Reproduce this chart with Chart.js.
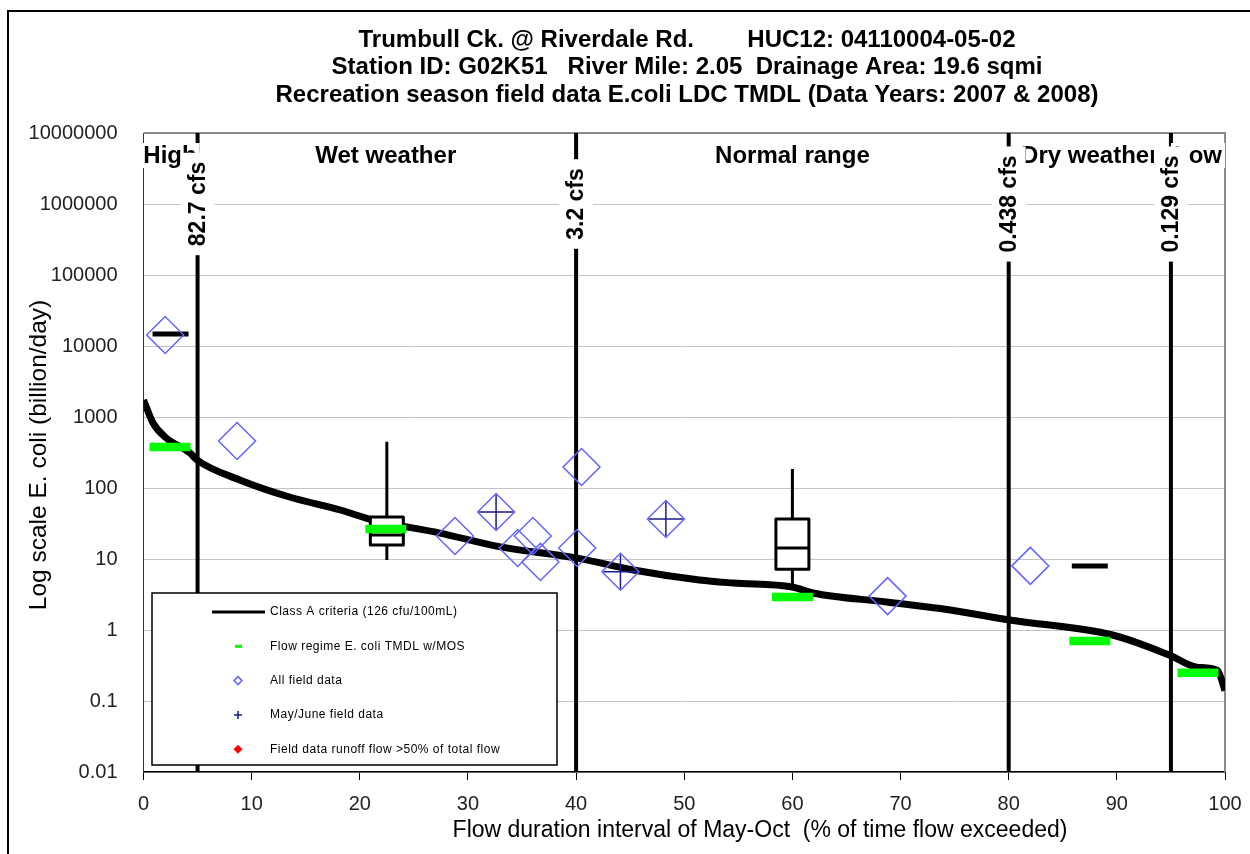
<!DOCTYPE html>
<html><head><meta charset="utf-8">
<script src="https://cdn.jsdelivr.net/npm/chart.js@4.4.0/dist/chart.umd.min.js"></script>
<style>
html,body{margin:0;padding:0;background:#fff;}
#wrap{position:relative;width:1250px;height:854px;overflow:hidden;background:#fff;}
canvas{position:absolute;left:0;top:0;}
</style></head><body>
<div id="wrap"><canvas id="c" width="1250" height="854"></canvas></div>
<script>
// ---------- data ----------
const curveX = [0, 0.88, 1.99, 4.3, 4.95, 8.9, 13.5, 18.2, 21.2, 27.4, 33.0, 40.1, 45.3, 51.4, 54.5, 60, 61.9, 68.7, 74.6, 80.1, 89.6, 94.9, 97.4, 99.3, 100];
const curveY = [1735, 823, 523, 311, 248, 130, 74.7, 49, 35.4, 23.2, 14.8, 10.3, 7.0, 5.06, 4.59, 4.03, 3.32, 2.48, 1.91, 1.38, 0.85, 0.44, 0.30, 0.27, 0.14];

const regimeX = [2.45, 22.4, 60.0, 87.5, 97.5];
const regimeNames = ['High', 'Wet weather', 'Normal range', 'Dry weather', 'Low'];
const tmdlY = [378, 26.5, 2.92, 0.70, 0.25];

const singleX = [2.5, 87.5];
const singleY = [14750, 8.0];

const boxX   = [22.5, 60.0];
const boxMin = [9.7, 4.3];
const boxQ1  = [15.7, 7.2];
const boxMed = [21.8, 14.3];
const boxQ3  = [39, 36.6];
const boxMax = [449, 185];

const fieldX = [2.0, 8.65, 28.8, 32.6, 34.6, 36.0, 36.7, 40.5, 40.1, 44.1, 48.3, 68.8, 82.0];
const fieldY = [14300, 459, 21.1, 45.9, 14.3, 21.1, 9.1, 198, 14.3, 6.6, 36.6, 3.0, 8.0];

const mayX = [32.6, 44.1, 48.3];
const mayY = [45.9, 6.6, 36.6];

const flowX = [5, 40, 80, 95];
const flowLabels = ['82.7 cfs', '3.2 cfs', '0.438 cfs', '0.129 cfs'];

const yTickVals = [0.01, 0.1, 1, 10, 100, 1000, 10000, 100000, 1000000, 10000000];
const yTickLabels = ['0.01', '0.1', '1', '10', '100', '1000', '10000', '100000', '1000000', '10000000'];

const titleLines = [
  'Trumbull Ck. @ Riverdale Rd.        HUC12: 04110004-05-02',
  'Station ID: G02K51   River Mile: 2.05  Drainage Area: 19.6 sqmi',
  'Recreation season field data E.coli LDC TMDL (Data Years: 2007 & 2008)'
];
const xTitle = 'Flow duration interval of May-Oct  (% of time flow exceeded)';
const yTitle = 'Log scale E. coli (billion/day)';
const legendLabels = ['Class A criteria (126 cfu/100mL)', 'Flow regime E. coli TMDL w/MOS', 'All field data', 'May/June field data', 'Field data runoff flow >50% of total flow'];

// ---------- drawing ----------
const FONT = '"Liberation Sans", Arial, Helvetica, sans-serif';
Chart.defaults.font.family = FONT;
const pts = (xs, ys) => xs.map((x, i) => ({x: x, y: ys[i]}));

function drawBoxes(chart) {
  const xs = chart.scales.x, ys = chart.scales.y, c = chart.ctx;
  c.save();
  c.strokeStyle = '#000'; c.lineWidth = 3; c.lineJoin = 'round';
  boxX.forEach((bx, i) => {
    const px = xs.getPixelForValue(bx), half = 16.5;
    const yMin = ys.getPixelForValue(boxMin[i]);
    const yQ1 = ys.getPixelForValue(boxQ1[i]);
    const yMed = ys.getPixelForValue(boxMed[i]);
    const yQ3 = ys.getPixelForValue(boxQ3[i]);
    const yMax = ys.getPixelForValue(boxMax[i]);
    c.beginPath();
    c.moveTo(px, yMax); c.lineTo(px, yQ3);
    c.moveTo(px, yQ1); c.lineTo(px, yMin);
    c.stroke();
    c.fillStyle = '#fff';
    c.fillRect(px - half, yQ3, 2 * half, yQ1 - yQ3);
    c.strokeRect(px - half, yQ3, 2 * half, yQ1 - yQ3);
    c.beginPath(); c.moveTo(px - half, yMed); c.lineTo(px + half, yMed); c.stroke();
  });
  c.restore();
}

const overlay = {
  id: 'overlay',
  beforeDatasetsDraw(chart) {
    const c = chart.ctx, a = chart.chartArea, xs = chart.scales.x;
    c.save();
    c.strokeStyle = '#8a8a8a'; c.lineWidth = 2;
    c.beginPath(); c.moveTo(a.left, a.top); c.lineTo(a.right, a.top); c.lineTo(a.right, a.bottom); c.stroke();
    c.strokeStyle = '#000'; c.lineWidth = 4;
    flowX.forEach(fx => {
      const px = xs.getPixelForValue(fx);
      c.beginPath(); c.moveTo(px, a.top); c.lineTo(px, a.bottom); c.stroke();
    });
    c.font = 'bold 24px ' + FONT; c.textAlign = 'center'; c.textBaseline = 'middle';
    regimeNames.forEach((n, i) => {
      const px = xs.getPixelForValue(regimeX[i]);
      const w = c.measureText(n).width;
      c.fillStyle = '#fff'; c.fillRect(px - w / 2 - 3, 143, w + 6, 25);
      c.fillStyle = '#000'; c.fillText(n, px, 156);
    });
    c.font = 'bold 23px ' + FONT;
    flowLabels.forEach((t, i) => {
      const px = xs.getPixelForValue(flowX[i]);
      const w = c.measureText(t).width;
      c.save(); c.translate(px, 204); c.rotate(-Math.PI / 2);
      c.fillStyle = '#fff'; c.fillRect(-w / 2 - 9, -17, w + 18, 34);
      c.fillStyle = '#000'; c.fillText(t, 0, 1);
      c.restore();
    });
    c.restore();
  },
  afterDatasetDraw(chart, args) {
    if (args.index === 0) drawBoxes(chart);
  },
  afterDraw(chart) {
    const c = chart.ctx;
    c.save();
    c.strokeStyle = '#000'; c.lineWidth = 2;
    c.beginPath(); c.moveTo(8, 860); c.lineTo(8, 11); c.lineTo(1252, 11); c.stroke();
    c.fillStyle = '#000'; c.textAlign = 'center'; c.textBaseline = 'middle';
    c.font = 'bold 24px ' + FONT;
    titleLines.forEach((t, i) => c.fillText(t, 687, 40 + i * 27.5));
    c.font = '23px ' + FONT;
    c.fillText(xTitle, 760, 831);
    c.font = '24.5px ' + FONT;
    c.save(); c.translate(39, 455); c.rotate(-Math.PI / 2); c.fillText(yTitle, 0, 0); c.restore();
    const L = 152, T = 593, W = 405, H = 172;
    c.fillStyle = '#fff'; c.fillRect(L, T, W, H);
    c.strokeStyle = '#000'; c.lineWidth = 1.5; c.strokeRect(L, T, W, H);
    c.font = '12px ' + FONT; c.textAlign = 'left';
    try { c.letterSpacing = '0.5px'; } catch (e) {}
    legendLabels.forEach((t, i) => {
      const y = 612 + i * 34.3, mx = 238;
      c.save();
      if (i === 0) {
        c.strokeStyle = '#000'; c.lineWidth = 3;
        c.beginPath(); c.moveTo(212, y); c.lineTo(265, y); c.stroke();
      } else if (i === 1) {
        c.fillStyle = '#00ff00'; c.fillRect(mx - 3, y - 1.5, 7, 3);
      } else if (i === 2) {
        c.strokeStyle = '#6464ff'; c.lineWidth = 1.5;
        c.beginPath(); c.moveTo(mx - 4, y); c.lineTo(mx, y - 4); c.lineTo(mx + 4, y); c.lineTo(mx, y + 4); c.closePath(); c.stroke();
      } else if (i === 3) {
        c.strokeStyle = '#1c1c8a'; c.lineWidth = 1.5;
        c.beginPath(); c.moveTo(mx - 4, y); c.lineTo(mx + 4, y); c.moveTo(mx, y - 4); c.lineTo(mx, y + 4); c.stroke();
      } else {
        c.fillStyle = '#ff0000';
        c.beginPath(); c.moveTo(mx - 4.5, y); c.lineTo(mx, y - 4.5); c.lineTo(mx + 4.5, y); c.lineTo(mx, y + 4.5); c.closePath(); c.fill();
      }
      c.restore();
      c.fillStyle = '#000';
      c.fillText(t, 270, y);
    });
    c.restore();
  }
};

new Chart(document.getElementById('c'), {
  type: 'scatter',
  data: {
    datasets: [
      {label: legendLabels[0], type: 'line', data: pts(curveX, curveY), borderColor: '#000', borderWidth: 7,
       pointRadius: 0, showLine: true, fill: false, cubicInterpolationMode: 'monotone', order: 5},
      {label: 'single sample', data: pts(singleX, singleY), pointStyle: 'line', pointRadius: 18,
       borderColor: '#000', backgroundColor: '#000', borderWidth: 5, order: 4},
      {label: legendLabels[1], data: pts(regimeX, tmdlY), pointStyle: 'line', pointRadius: 20.5,
       borderColor: '#00ff00', backgroundColor: '#00ff00', borderWidth: 8.5, order: 3},
      {label: legendLabels[2], data: pts(fieldX, fieldY), pointStyle: 'rectRot', pointRadius: 18.5,
       borderColor: '#6464ff', backgroundColor: 'rgba(0,0,0,0)', borderWidth: 1.5, order: 2},
      {label: legendLabels[3], data: pts(mayX, mayY), pointStyle: 'cross', pointRadius: 17,
       borderColor: '#1c1c8a', backgroundColor: '#1c1c8a', borderWidth: 1.5, order: 1},
      {label: legendLabels[4], data: [], pointStyle: 'rectRot', borderColor: '#ff0000', backgroundColor: '#ff0000', order: 0}
    ]
  },
  options: {
    responsive: false, animation: false, devicePixelRatio: 1, events: [],
    layout: {autoPadding: false, padding: {top: 133, right: 25, left: 0, bottom: 0}},
    plugins: {legend: {display: false}, title: {display: false}, tooltip: {enabled: false}},
    scales: {
      x: {
        type: 'linear', min: 0, max: 100,
        ticks: {stepSize: 10, color: '#222', font: {size: 20}, padding: 12, maxRotation: 0},
        grid: {drawOnChartArea: false, drawTicks: true, tickLength: 8, color: '#000', lineWidth: 1},
        border: {color: '#000', width: 1.5},
        afterFit: s => { s.height = 82; s.paddingRight = 0; s.paddingLeft = 0; }
      },
      y: {
        type: 'logarithmic', min: 0.01, max: 10000000,
        afterBuildTicks: s => { s.ticks = yTickVals.map(v => ({value: v})); },
        ticks: {callback: (v, i) => yTickLabels[i], color: '#222', font: {size: 20}, padding: 26, autoSkip: false},
        grid: {color: '#c4c4c4', lineWidth: 1, drawTicks: false},
        border: {color: '#333', width: 1},
        afterFit: s => { s.width = 143.5; s.paddingTop = 0; s.paddingBottom = 0; }
      }
    }
  },
  plugins: [overlay]
});
</script>
</body></html>
